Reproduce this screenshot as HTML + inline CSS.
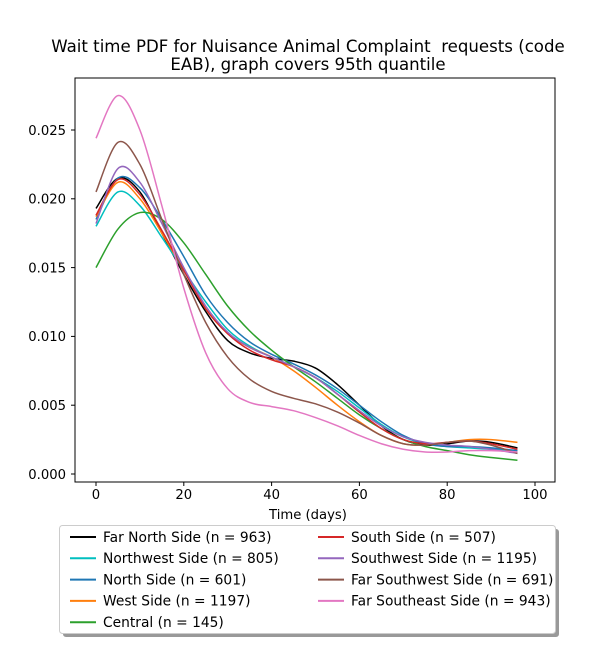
<!DOCTYPE html>
<html><head><meta charset="utf-8"><style>
body{margin:0;background:#fff;font-family:"DejaVu Sans","Liberation Sans",sans-serif}
svg text{font-family:"DejaVu Sans","Liberation Sans",sans-serif}
</style></head><body>
<svg id="chart" width="600" height="650" xmlns="http://www.w3.org/2000/svg">
<rect width="600" height="650" fill="#fff"/>
<text x="308" y="52" font-size="16.6" text-anchor="middle" xml:space="preserve" style="white-space:pre">Wait time PDF for Nuisance Animal Complaint  requests (code</text>
<text x="308" y="70" font-size="16.6" text-anchor="middle">EAB), graph covers 95th quantile</text>
<g id="plot"></g>
<rect x="75" y="78" width="480" height="404" fill="none" stroke="#000" stroke-width="1"/>
<text x="308" y="519" font-size="13.2" text-anchor="middle">Time (days)</text>
<g id="legend">
<rect x="63" y="529" width="496" height="108" rx="3" fill="#999"/>
<rect x="59.5" y="525.5" width="496" height="108" rx="3" fill="#fff" stroke="#ccc"/>
</g>
</svg>
<script>
const xs=[0,5,10,15,20,25,30,35,40,45,50,55,60,65,70,75,80,85,90,96];
const seriesNames=["Far North Side (n = 963)","Northwest Side (n = 805)","North Side (n = 601)","West Side (n = 1197)","Central (n = 145)","South Side (n = 507)","Southwest Side (n = 1195)","Far Southwest Side (n = 691)","Far Southeast Side (n = 943)"];
const farNorth=[0.0193,0.0215,0.0205,0.0175,0.0145,0.0118,0.0097,0.0088,0.0084,0.0082,0.0077,0.0065,0.0050,0.0035,0.0025,0.0021,0.0022,0.0024,0.0023,0.0019];
const northwest=[0.0180,0.0205,0.0195,0.0172,0.0148,0.0125,0.0105,0.0093,0.0085,0.0078,0.0070,0.0060,0.0048,0.0036,0.0027,0.0022,0.0020,0.0019,0.0018,0.0017];
const north=[0.0185,0.0215,0.0208,0.0185,0.0158,0.0130,0.0110,0.0096,0.0087,0.0080,0.0072,0.0062,0.0050,0.0038,0.0028,0.0022,0.0020,0.0020,0.0019,0.0017];
const west=[0.0187,0.0212,0.0200,0.0175,0.0148,0.0120,0.0102,0.0092,0.0085,0.0075,0.0063,0.0050,0.0038,0.0028,0.0022,0.0021,0.0023,0.0025,0.0025,0.0023];
const central=[0.0150,0.0178,0.0190,0.0185,0.0168,0.0145,0.0122,0.0104,0.0090,0.0078,0.0067,0.0055,0.0043,0.0033,0.0025,0.0020,0.0017,0.0014,0.0012,0.0010];
const south=[0.0188,0.0214,0.0203,0.0177,0.0148,0.0120,0.0102,0.0090,0.0083,0.0078,0.0070,0.0058,0.0045,0.0033,0.0025,0.0022,0.0023,0.0024,0.0022,0.0018];
const southwest=[0.0182,0.0222,0.0212,0.0182,0.0150,0.0122,0.0103,0.0092,0.0085,0.0078,0.0070,0.0058,0.0046,0.0035,0.0027,0.0023,0.0021,0.0020,0.0018,0.0015];
const farSouthwest=[0.0205,0.0241,0.0225,0.0185,0.0145,0.0110,0.0085,0.0069,0.0060,0.0055,0.0051,0.0045,0.0037,0.0028,0.0022,0.0021,0.0023,0.0024,0.0021,0.0015];
const farSoutheast=[0.0244,0.0275,0.0250,0.0195,0.0135,0.0088,0.0062,0.0052,0.0049,0.0046,0.0041,0.0035,0.0028,0.0022,0.0018,0.0016,0.0016,0.0017,0.0017,0.0016];
const xTicks=[0,20,40,60,80,100];
const yTicks=[0,0.005,0.010,0.015,0.020,0.025];
const yTickLabels=["0.000","0.005","0.010","0.015","0.020","0.025"];

const allSeries=[farNorth,northwest,north,west,central,south,southwest,farSouthwest,farSoutheast];
const colors=["#000000","#00bfbf","#1f77b4","#ff7f0e","#2ca02c","#d62728","#9467bd","#8c564b","#e377c2"];
const keys=["far-north","northwest","north","west","central","south","southwest","far-southwest","far-southeast"];
const X=v=>96+v*4.39;
const Y=v=>474-v*13760;
const NS="http://www.w3.org/2000/svg";
const plot=document.getElementById('plot');
function mk(tag,attrs,parent){const e=document.createElementNS(NS,tag);for(const k in attrs)e.setAttribute(k,attrs[k]);parent.appendChild(e);return e;}
xTicks.forEach(t=>{
  const g=mk('g',{},plot);
  
  
  mk('line',{x1:X(t),x2:X(t),y1:482,y2:486,stroke:'#000'},g);
  const tx=mk('text',{x:X(t),y:499,'font-size':13.2,'text-anchor':'middle'},g);tx.textContent=t;
});
yTicks.forEach((t,i)=>{
  const g=mk('g',{},plot);
  
  
  mk('line',{x1:71,x2:75,y1:Y(t),y2:Y(t),stroke:'#000'},g);
  const tx=mk('text',{x:66,y:Y(t)+4.8,'font-size':13.2,'text-anchor':'end'},g);tx.textContent=yTickLabels[i];
});
function smoothPath(pts){
  let d='M'+pts[0][0]+','+pts[0][1];
  for(let i=0;i<pts.length-1;i++){
    const p0=pts[i-1]||pts[i],p1=pts[i],p2=pts[i+1],p3=pts[i+2]||p2;
    const c1=[p1[0]+(p2[0]-p0[0])/6,p1[1]+(p2[1]-p0[1])/6];
    const c2=[p2[0]-(p3[0]-p1[0])/6,p2[1]-(p3[1]-p1[1])/6];
    d+=' C'+c1+' '+c2+' '+p2;
  }
  return d;
}
allSeries.forEach((s,i)=>{
  const pts=s.map((v,j)=>[X(xs[j]),Y(v)]);
  const p=mk('path',{d:smoothPath(pts),fill:'none',stroke:colors[i],'stroke-width':1.5},plot);
  
  
});
const legend=document.getElementById('legend');
seriesNames.forEach((n,i)=>{
  const col=i<5?0:1,row=i<5?i:i-5;
  const x0=col?318:70,y0=537+row*21.3;
  const g=mk('g',{},legend);
  
  
  mk('line',{x1:x0,x2:x0+26,y1:y0,y2:y0,stroke:colors[i],'stroke-width':2},g);
  const t=mk('text',{x:x0+33,y:y0+4.8,'font-size':13.8},g);t.textContent=n;
});
</script>
</body></html>
